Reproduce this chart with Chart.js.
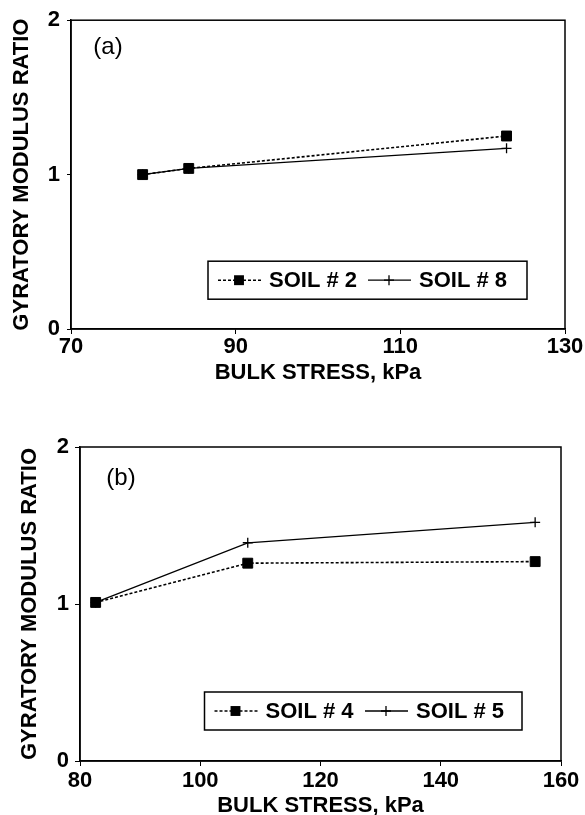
<!DOCTYPE html>
<html>
<head>
<meta charset="utf-8">
<script src="https://cdn.jsdelivr.net/npm/chart.js@4/dist/chart.umd.min.js"></script>
<style>
  body { margin: 0; background: #fff; }
  canvas { position: absolute; left: 0; }
</style>
</head>
<body>
<canvas id="chartA" style="top:0" width="585" height="400"></canvas>
<canvas id="chartB" style="top:400px" width="585" height="415"></canvas>
<script>
// panel (a)
const stressA = [78.7, 84.3, 122.9];
const soil2 = [1.00, 1.04, 1.25];
const soil8 = [1.00, 1.04, 1.17];
const xTicksA = [70, 90, 110, 130];
// panel (b)
const stressB = [82.6, 107.9, 155.7];
const soil4 = [1.01, 1.26, 1.27];
const soil5 = [1.01, 1.39, 1.52];
const xTicksB = [80, 100, 120, 140, 160];
const yTicks = [0, 1, 2];

const FONT = "'Liberation Sans', Arial, Helvetica, sans-serif";
Chart.defaults.font.family = FONT;
Chart.defaults.color = '#000';

function pairs(xs, ys) {
  return xs.map((x, i) => ({ x: x, y: ys[i] }));
}

// frame round the plot, panel letter and the boxed legend
const framePlugin = {
  id: 'frame',
  afterDatasetsDraw(chart, args, opts) {
    const ctx = chart.ctx, a = chart.chartArea;
    ctx.save();
    ctx.strokeStyle = '#000';
    ctx.fillStyle = '#000';
    ctx.lineWidth = 1.5;
    ctx.strokeRect(a.left, a.top, a.right - a.left, a.bottom - a.top);

    ctx.font = '24px ' + FONT;
    ctx.textAlign = 'center';
    ctx.textBaseline = 'middle';
    ctx.fillText(opts.tag, a.left + opts.tagX, a.top + opts.tagY);

    const bx = a.left + opts.box[0], by = a.top + opts.box[1];
    const bw = opts.box[2], bh = opts.box[3];
    ctx.fillStyle = '#fff';
    ctx.fillRect(bx, by, bw, bh);
    ctx.lineWidth = 1.5;
    ctx.strokeRect(bx, by, bw, bh);
    const cy = by + bh / 2;
    ctx.font = 'bold 22px ' + FONT;
    ctx.textAlign = 'left';
    chart.data.datasets.forEach((ds, i) => {
      const x0 = bx + opts.items[i];
      ctx.lineWidth = ds.borderWidth;
      ctx.setLineDash(ds.borderDash || []);
      ctx.beginPath();
      ctx.moveTo(x0, cy);
      ctx.lineTo(x0 + 43, cy);
      ctx.stroke();
      ctx.setLineDash([]);
      const mx = x0 + 21, r = ds.pointRadius;
      ctx.fillStyle = '#000';
      if (ds.pointStyle === 'rect') {
        const s = r * Math.SQRT1_2;
        ctx.fillRect(mx - s, cy - s, 2 * s, 2 * s);
      } else {
        ctx.lineWidth = ds.pointBorderWidth;
        ctx.beginPath();
        ctx.moveTo(mx - r, cy); ctx.lineTo(mx + r, cy);
        ctx.moveTo(mx, cy - r); ctx.lineTo(mx, cy + r);
        ctx.stroke();
      }
      ctx.fillText(ds.label, x0 + 51, cy + 1);
    });
    ctx.restore();
  }
};

function dottedSet(label, xs, ys) {
  return {
    label: label, data: pairs(xs, ys),
    borderColor: '#000', borderWidth: 1.6, borderDash: [3, 2],
    pointStyle: 'rect', pointRadius: 7, pointBackgroundColor: '#000',
    pointBorderColor: '#000', pointBorderWidth: 1
  };
}
function solidSet(label, xs, ys) {
  return {
    label: label, data: pairs(xs, ys),
    borderColor: '#000', borderWidth: 1.3,
    pointStyle: 'cross', pointRadius: 5, pointBorderColor: '#000',
    pointBorderWidth: 1.3
  };
}

function makeChart(id, datasets, xTicks, L) {
  return new Chart(document.getElementById(id), {
    type: 'line',
    data: { datasets: datasets },
    plugins: [framePlugin],
    options: {
      responsive: false,
      animation: false,
      devicePixelRatio: 1,
      layout: { padding: { top: L.top, right: L.right, left: 0, bottom: 0 } },
      elements: { line: { tension: 0 } },
      plugins: {
        legend: { display: false },
        tooltip: { enabled: false },
        frame: L.frame
      },
      scales: {
        x: {
          type: 'linear',
          min: xTicks[0], max: xTicks[xTicks.length - 1],
          afterBuildTicks: s => { s.ticks = xTicks.map(v => ({ value: v })); },
          afterFit: s => { s.height = L.xH; },
          ticks: { font: { size: 22, weight: 'bold' }, padding: L.xTickPad, maxRotation: 0 },
          grid: { drawOnChartArea: false, tickLength: 5, color: '#000', tickWidth: 1 },
          border: { color: '#000', width: 1.5 },
          title: {
            display: true, text: 'BULK STRESS, kPa',
            font: { size: 22, weight: 'bold', lineHeight: 1 },
            padding: { top: 0, bottom: L.xTitlePad }
          }
        },
        y: {
          type: 'linear',
          min: yTicks[0], max: yTicks[yTicks.length - 1],
          afterBuildTicks: s => { s.ticks = yTicks.map(v => ({ value: v })); },
          afterFit: s => { s.width = L.yW; },
          ticks: { font: { size: 22, weight: 'bold' }, padding: L.yTickPad },
          grid: { drawOnChartArea: false, tickLength: L.yTickLen, color: '#000', tickWidth: 1 },
          border: { color: '#000', width: 1.5 },
          title: {
            display: true, text: 'GYRATORY MODULUS RATIO',
            font: { size: 22, weight: 'bold', lineHeight: 1 },
            padding: { top: L.yTitlePad, bottom: 0 }
          }
        }
      }
    }
  });
}

makeChart('chartA',
  [dottedSet('SOIL # 2', stressA, soil2), solidSet('SOIL # 8', stressA, soil8)],
  xTicksA,
  {
    top: 17, right: 20, yW: 71, xH: 71,
    xTickPad: 0, yTickPad: 7, yTickLen: 4, xTitlePad: 16, yTitlePad: 10.5,
    frame: { tag: '(a)', tagX: 37, tagY: 27, box: [137, 241, 319, 38], items: [10, 160] }
  });

makeChart('chartB',
  [dottedSet('SOIL # 4', stressB, soil4), solidSet('SOIL # 5', stressB, soil5)],
  xTicksB,
  {
    top: 47, right: 24, yW: 80, xH: 54,
    xTickPad: 2, yTickPad: 6, yTickLen: 5, xTitlePad: -2, yTitlePad: 19,
    frame: { tag: '(b)', tagX: 41, tagY: 31, box: [124.5, 245, 317.5, 38], items: [10, 160.5] }
  });
</script>
</body>
</html>
